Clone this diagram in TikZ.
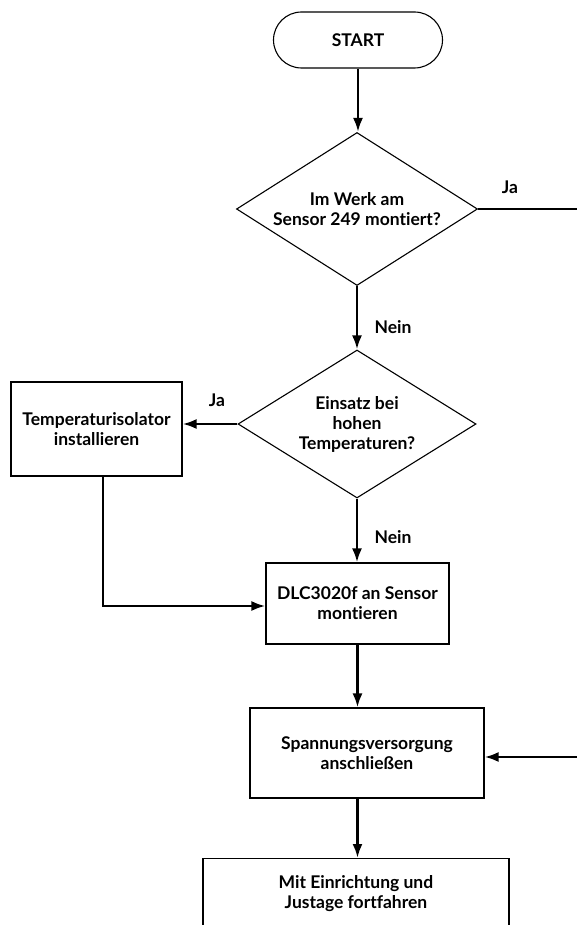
\documentclass[tikz,border=0pt]{standalone}
\usepackage{fontspec}
\setmainfont{Lato}[Ligatures=NoCommon]
\usepackage{tikz}
\usetikzlibrary{shapes.geometric}
\usetikzlibrary{shapes.misc}
\usetikzlibrary{arrows.meta}
\tikzset{>={Latex[length=14pt,width=10pt]}}

\begin{document}
\begin{tikzpicture}[x=1pt, y=-1pt]
\tikzset{box/.style={draw, line width=1.1pt, align=center, inner sep=0pt, font=\fontsize{17.5}{20}\selectfont\bfseries},
         decision/.style={box, diamond, aspect=1.6},
         flow/.style={line width=2.6pt},
         answer/.style={font=\fontsize{17.5}{20}\selectfont\bfseries}}
    \useasboundingbox (0,0) rectangle (577,925);
    \clip (0,0) rectangle (577,925);

    \node[box, rounded rectangle, minimum width=169pt, minimum height=56pt] (start) at (358,40) {START};
    \node[decision, minimum width=241pt, minimum height=153pt] (werk) at (357,209) {Im Werk am\\Sensor 249 montiert?};
    \node[decision, minimum width=238pt, minimum height=148pt] (temp) at (357,424) {Einsatz bei\\hohen\\Temperaturen?};
    \node[box, minimum width=171pt, minimum height=94pt] (iso) at (96.5,429) {Temperaturisolator\\installieren};
    \node[box, minimum width=183pt, minimum height=81pt] (dlc) at (357.5,603.5) {DLC3020f an Sensor\\montieren};
    \node[box, minimum width=234pt, minimum height=90pt] (power) at (367,753) {Spannungsversorgung\\anschließen};
    \node[box, minimum width=306pt, minimum height=70pt, anchor=north] (setup) at (356,858) {Mit Einrichtung und\\Justage fortfahren};

    \coordinate (jaout) at (577,209);
    \coordinate (powerin) at (577,757);

    % Ja / Nein
    \draw[flow] (werk.east) -- (jaout);
    \node[answer] (ja1) at (510,187) {Ja};
    \draw[flow, ->] (werk.south) -- (temp.north);
    \node[answer] (nein1) at (393,327) {Nein};
    \draw[flow, ->] (temp.west) -- (temp.west -| iso.east);
    \node[answer] (ja2) at (217,400) {Ja};
    \draw[flow, ->] (temp.south) -- (temp.south |- dlc.north);
    \node[answer] (nein2) at (393,537) {Nein};

    \draw[flow, ->] (start.south) -- (start.south |- werk.north);
    \draw[flow, ->] ([xshift=6.5pt]iso.south) |- ([yshift=-2.5pt]dlc.west);
    \draw[flow, ->] (dlc.south) -- (dlc.south |- power.north);
    \draw[flow, ->] (powerin) -- (powerin -| power.east);
    \draw[flow, ->] (dlc.south |- power.south) -- (dlc.south |- setup.north);
\end{tikzpicture}
\end{document}
